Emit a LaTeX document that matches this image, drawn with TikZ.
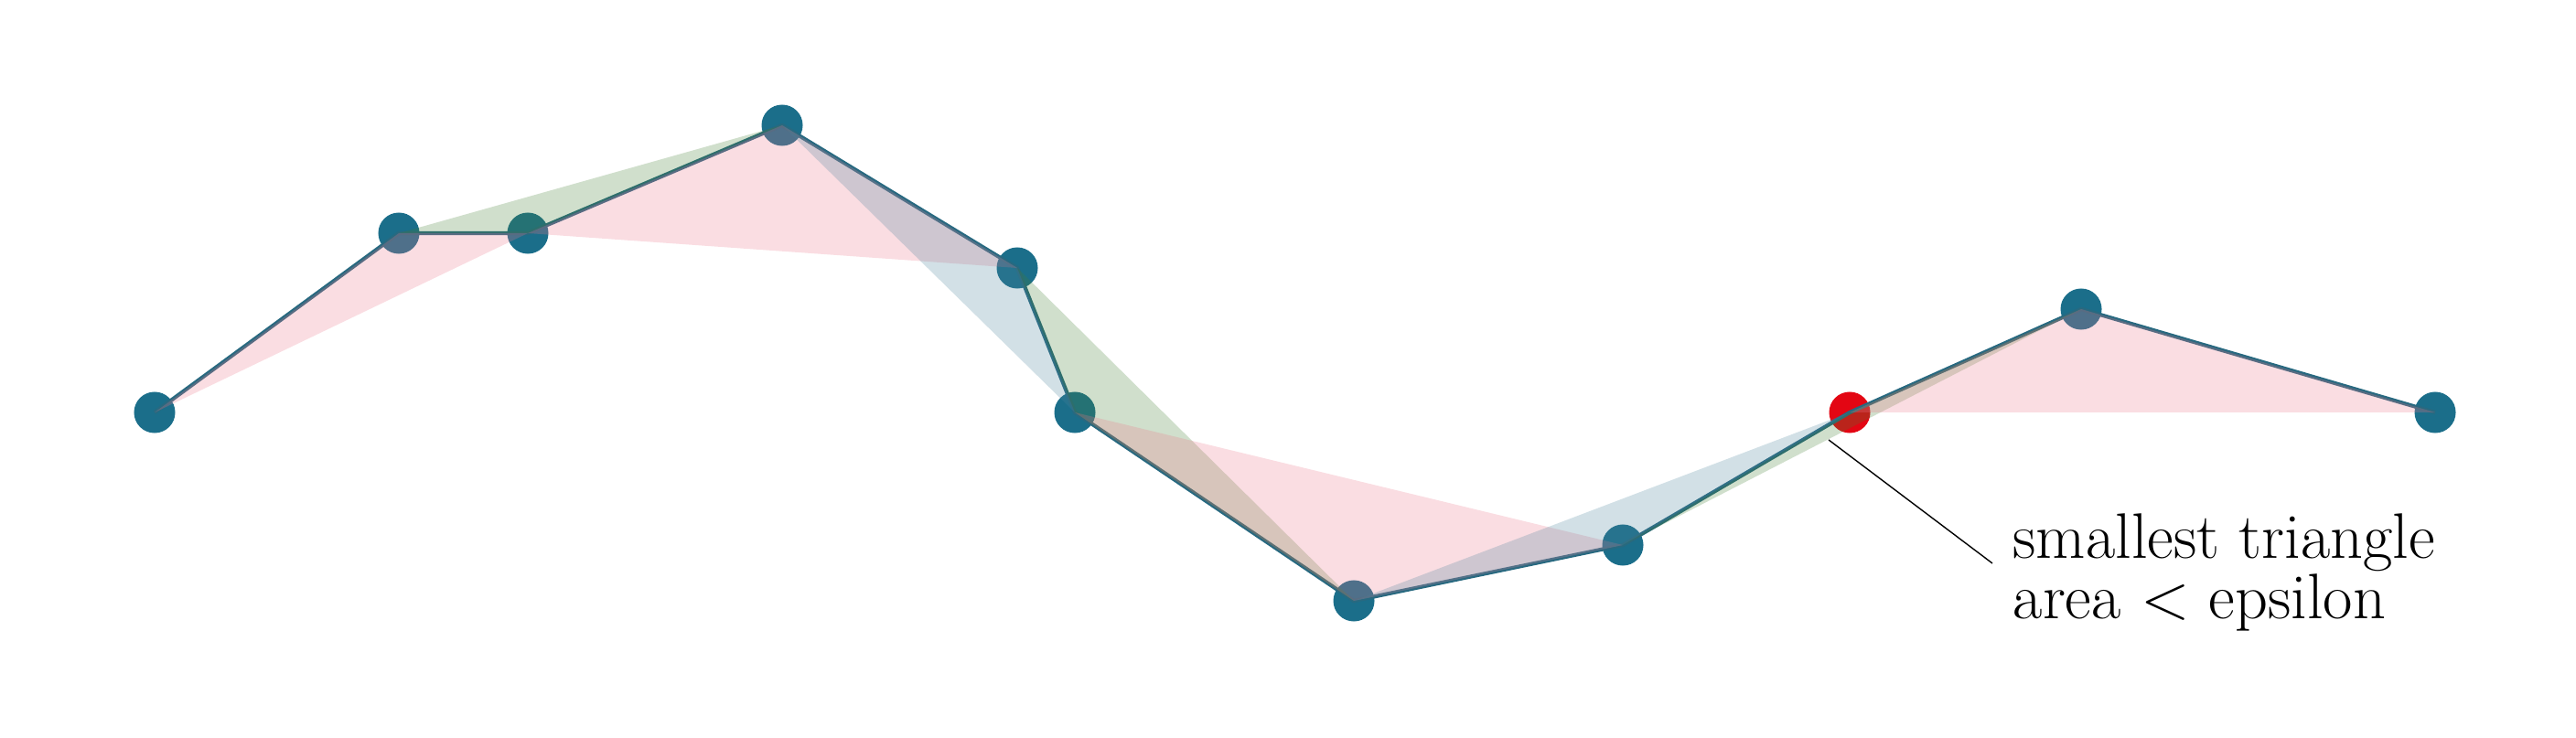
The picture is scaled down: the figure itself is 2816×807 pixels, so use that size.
\documentclass[tikz,border=0pt]{standalone}
\usepackage{xcolor}
\usepackage{tikz}
\usetikzlibrary{positioning}
\definecolor{mypetrol}{RGB}{27,110,138}
\definecolor{myline}{RGB}{40,105,128}
\definecolor{myred}{RGB}{227,6,19}
\definecolor{mypink}{RGB}{235,119,139}
\definecolor{mygreen}{RGB}{67,127,51}
\definecolor{myblue}{RGB}{75,131,155}
\tikzset{
  pt/.style={circle, fill=mypetrol, minimum size=0.45cm, inner sep=0pt},
  redpt/.style={circle, fill=myred, minimum size=0.45cm, inner sep=0pt},
  polyline/.style={line width=1.2pt, color=myline, line join=round},
  pinktri/.style={fill=mypink, fill opacity=0.25},
  greentri/.style={fill=mygreen, fill opacity=0.25},
  bluetri/.style={fill=myblue, fill opacity=0.25},
  pointer/.style={line width=0.4pt, color=black},
  note/.style={align=left, inner sep=0pt, font=\fontsize{20}{18.6}\selectfont}
}

\begin{document}
\begin{tikzpicture}[x=0.01cm, y=-0.01cm]
  \useasboundingbox (0,0) rectangle (2816,807);
  % points of the line
  \node[pt] (p1) at (169,451) {};
  \node[pt] (p2) at (436,255) {};
  \node[pt] (p3) at (577,255) {};
  \node[pt] (p4) at (855,137) {};
  \node[pt] (p5) at (1112,293) {};
  \node[pt] (p6) at (1175,451) {};
  \node[pt] (p7) at (1480,657) {};
  \node[pt] (p8) at (1774,596) {};
  \node[redpt] (p9) at (2022,451) {};
  \node[pt] (p10) at (2275,338) {};
  \node[pt] (p11) at (2662,451) {};
  \draw[polyline] (p1.center) -- (p2.center) -- (p3.center) -- (p4.center)
    -- (p5.center) -- (p6.center) -- (p7.center) -- (p8.center)
    -- (p9.center) -- (p10.center) -- (p11.center);
  % effective areas
  \fill[pinktri] (p1.center) -- (p2.center) -- (p3.center) -- cycle;
  \fill[greentri] (p2.center) -- (p3.center) -- (p4.center) -- cycle;
  \fill[pinktri] (p3.center) -- (p4.center) -- (p5.center) -- cycle;
  \fill[bluetri] (p4.center) -- (p5.center) -- (p6.center) -- cycle;
  \fill[greentri] (p5.center) -- (p6.center) -- (p7.center) -- cycle;
  \fill[pinktri] (p6.center) -- (p7.center) -- (p8.center) -- cycle;
  \fill[bluetri] (p7.center) -- (p8.center) -- (p9.center) -- cycle;
  \fill[greentri] (p8.center) -- (p9.center) -- (p10.center) -- cycle;
  \fill[pinktri] (p9.center) -- (p10.center) -- (p11.center) -- cycle;
  % label
  \node[note, anchor=base west] (note) at (2200,676) {smallest triangle\\area < epsilon};
  \coordinate (tip) at (1999,481);
  \coordinate (tail) at (2178,616);
  \draw[pointer] (tip) -- (tail);
\end{tikzpicture}
\end{document}
